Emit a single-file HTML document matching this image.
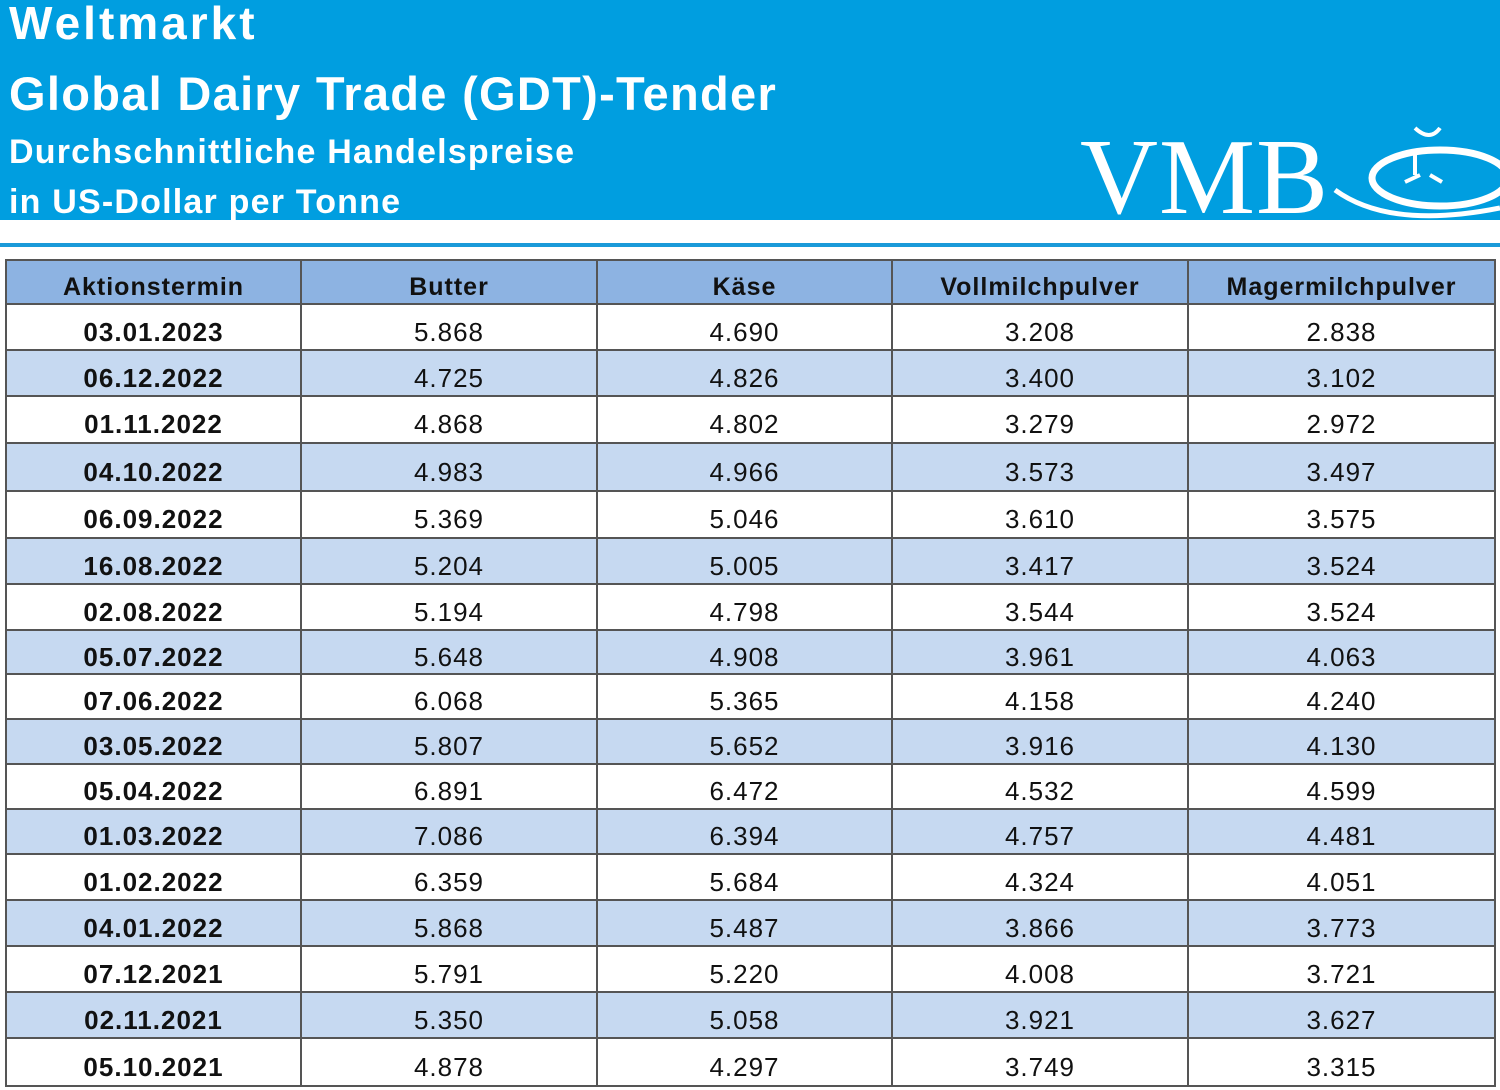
<!DOCTYPE html>
<html><head><meta charset="utf-8"><style>
*{margin:0;padding:0;box-sizing:border-box}
body{width:1500px;height:1090px;background:#fff;position:relative;overflow:hidden;font-family:"Liberation Sans",sans-serif}
#hdr{position:absolute;left:0;top:0;width:1500px;height:220px;background:#009ee0}
.t{position:absolute;left:9px;color:#fff;font-weight:bold;white-space:nowrap}
#line{position:absolute;left:0;top:243px;width:1500px;height:4px;background:#1a9ad9}
.r{position:absolute;left:5px;width:1491px;display:flex;border-bottom:2px solid #555}
.r div{flex:none;display:flex;align-items:center;justify-content:center;border-right:2px solid #555;font-size:26px;color:#111;padding-top:10px;letter-spacing:1px}
.r div:last-child{border-right:none}
.r div:first-child{font-weight:bold}
</style></head><body>
<div id="hdr">
<div class="t" style="top:-4px;font-size:46px;letter-spacing:3px">Weltmarkt</div>
<div class="t" style="top:66px;font-size:47px;letter-spacing:1.3px">Global Dairy Trade (GDT)-Tender</div>
<div class="t" style="top:133px;font-size:34px;letter-spacing:1.2px">Durchschnittliche Handelspreise</div>
<div class="t" style="top:183px;font-size:34px;letter-spacing:1.2px">in US-Dollar per Tonne</div>
<div style="position:absolute;left:1080px;top:124px;color:#fff;font-family:'Liberation Serif',serif;font-size:108px;line-height:108px;letter-spacing:1px">VMB</div>
<svg style="position:absolute;left:1330px;top:120px" width="170" height="100">
<ellipse cx="110" cy="58" rx="68" ry="28" fill="none" stroke="#fff" stroke-width="7"/>
<path d="M5 70 Q60 110 170 88" fill="none" stroke="#fff" stroke-width="5"/>
<path d="M85 30 L85 55 M75 62 L90 55 M100 55 L112 62" stroke="#fff" stroke-width="4" fill="none"/>
<path d="M85 8 Q100 22 110 8" stroke="#fff" stroke-width="4" fill="none"/>
</svg>
</div>
<div id="line"></div>
<div id="tbl"></div>
<script>
var rows=[["Aktionstermin","Butter","Käse","Vollmilchpulver","Magermilchpulver"],
["03.01.2023","5.868","4.690","3.208","2.838"],["06.12.2022","4.725","4.826","3.400","3.102"],["01.11.2022","4.868","4.802","3.279","2.972"],["04.10.2022","4.983","4.966","3.573","3.497"],["06.09.2022","5.369","5.046","3.610","3.575"],["16.08.2022","5.204","5.005","3.417","3.524"],["02.08.2022","5.194","4.798","3.544","3.524"],["05.07.2022","5.648","4.908","3.961","4.063"],["07.06.2022","6.068","5.365","4.158","4.240"],["03.05.2022","5.807","5.652","3.916","4.130"],["05.04.2022","6.891","6.472","4.532","4.599"],["01.03.2022","7.086","6.394","4.757","4.481"],["01.02.2022","6.359","5.684","4.324","4.051"],["04.01.2022","5.868","5.487","3.866","3.773"],["07.12.2021","5.791","5.220","4.008","3.721"],["02.11.2021","5.350","5.058","3.921","3.627"],["05.10.2021","4.878","4.297","3.749","3.315"]];
var b=[259,305,351,397,444,492,539,585,631,675,720,765,810,855,901,947,993,1039,1087];
var w=[295,296,295,296,309];
var h="";
rows.forEach(function(r,i){
var bg=i==0?"#8db3e2":(i%2==0?"#c6d9f1":"#fff");
h+='<div class="r" style="top:'+b[i]+'px;height:'+(b[i+1]-b[i])+'px;background:'+bg+';'+(i==0?'border-top:2px solid #555;border-left:2px solid #555;border-right:2px solid #555':'border-left:2px solid #555;border-right:2px solid #555')+'">';
r.forEach(function(c,j){h+='<div style="width:'+(w[j]-(j==4?4:0))+'px;'+(i==0?'font-weight:bold;font-size:25px':'')+'">'+c+'</div>';});
h+='</div>';});
document.getElementById("tbl").innerHTML=h;
</script>
</body></html>
